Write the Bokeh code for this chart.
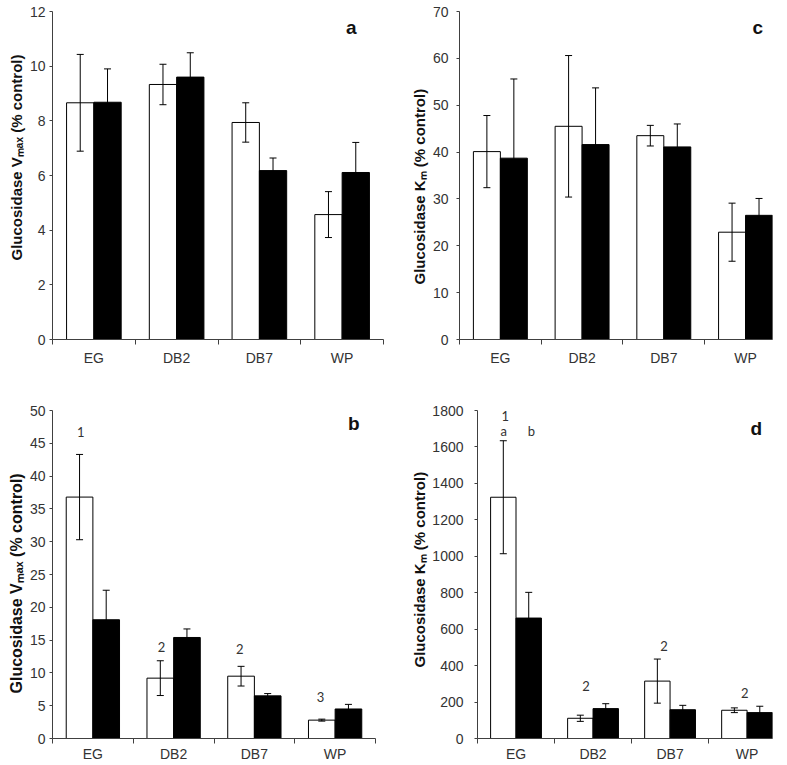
import numpy as np
from bokeh.plotting import figure
from bokeh.models import Range1d, FixedTicker, Whisker, TeeHead, ColumnDataSource, Label, Title
from bokeh.layouts import column, row
from bokeh.embed import file_html
from bokeh.resources import INLINE

categories = ["EG", "DB2", "DB7", "WP"]

# panel a: glucosidase Vmax (% control)
a_open = [8.66, 9.33, 7.94, 4.57]
a_open_err = [1.77, 0.74, 0.72, 0.84]
a_filled = [8.68, 9.60, 6.18, 6.11]
a_filled_err = [1.22, 0.89, 0.46, 1.10]

# panel c: glucosidase Km (% control)
c_open = [40.1, 45.5, 43.5, 22.9]
c_open_err = [7.7, 15.1, 2.2, 6.2]
c_filled = [38.7, 41.6, 41.1, 26.5]
c_filled_err = [16.9, 12.1, 4.9, 3.6]

# panel b: glucosidase Vmax (% control)
b_open = [36.8, 9.2, 9.5, 2.8]
b_open_err = [6.5, 2.65, 1.5, 0.15]
b_filled = [18.1, 15.4, 6.5, 4.5]
b_filled_err = [4.5, 1.3, 0.35, 0.7]

# panel d: glucosidase Km (% control)
d_open = [1324, 111, 315, 155]
d_open_err = [310, 17, 121, 13]
d_filled = [661, 164, 158, 142]
d_filled_err = [141, 27, 24, 35]

# significance notes: (category, offset within category, y, text)
b_notes = [("EG", -0.15, 46.7, "1"), ("DB2", -0.15, 13.9, "2"),
           ("DB7", -0.18, 13.6, "2"), ("WP", -0.18, 6.4, "3")]
d_notes = [("EG", -0.14, 1770, "1"), ("EG", -0.16, 1685, "a"), ("EG", 0.20, 1685, "b"),
           ("DB2", -0.09, 290, "2"), ("DB7", -0.08, 509, "2"), ("WP", -0.03, 252, "2")]

FONT = "Liberation Sans"
TICK_COLOR = "#333333"
AXIS_COLOR = "#404040"


def make_panel(width, height, borders, x_end, y_end, y_step, ylabel, label_offset, label_size,
               open_v, open_e, filled_v, filled_e, letter, letter_pos,
               notes, y_standoff, x_standoff):
    left, right, top, bottom = borders
    p = figure(width=width, height=height,
               x_range=Range1d(0, x_end), y_range=Range1d(0, y_end),
               output_backend="svg", toolbar_location=None,
               min_border_left=left, min_border_right=right,
               min_border_top=top, min_border_bottom=bottom)
    p.outline_line_color = None
    p.xgrid.visible = False
    p.ygrid.visible = False
    p.background_fill_color = "white"
    p.border_fill_color = "white"

    n = len(categories)
    centers = np.arange(n) + 0.5
    half = 0.165
    xo = centers - half
    xf = centers + half
    p.vbar(x=xo, top=open_v, width=0.33, fill_color="white",
           line_color="black", line_width=1)
    p.vbar(x=xf, top=filled_v, width=0.33, fill_color="black",
           line_color="black", line_width=1)
    for xs, v, e in ((xo, open_v, open_e), (xf, filled_v, filled_e)):
        v = np.asarray(v, dtype=float)
        e = np.asarray(e, dtype=float)
        src = ColumnDataSource(dict(base=xs, upper=v + e, lower=v - e))
        w = Whisker(source=src, base="base", upper="upper", lower="lower",
                    line_color="black", line_width=1,
                    upper_head=TeeHead(size=7, line_color="black", line_width=1),
                    lower_head=TeeHead(size=7, line_color="black", line_width=1),
                    level="overlay")
        p.add_layout(w)

    # x axis: labels at category centres, tick marks at category boundaries
    xa = p.xaxis[0]
    xa.ticker = FixedTicker(ticks=[float(c) for c in centers],
                            minor_ticks=[float(i) for i in range(n + 1) if i <= x_end])
    xa.major_label_overrides = {float(c): cat for c, cat in zip(centers, categories)}
    xa.major_tick_line_color = None
    xa.major_tick_out = 5
    xa.major_tick_in = 0
    xa.minor_tick_out = 5
    xa.minor_tick_in = 0
    xa.minor_tick_line_color = AXIS_COLOR
    xa.axis_line_color = AXIS_COLOR
    xa.major_label_standoff = x_standoff
    xa.major_label_text_font = FONT
    xa.major_label_text_font_size = "14px"
    xa.major_label_text_color = TICK_COLOR

    ya = p.yaxis[0]
    ya.ticker = FixedTicker(ticks=list(np.arange(0, y_end + y_step / 2, y_step)))
    ya.minor_tick_line_color = None
    ya.major_tick_out = 3
    ya.major_tick_in = 0
    ya.major_tick_line_color = AXIS_COLOR
    ya.axis_line_color = AXIS_COLOR
    ya.major_label_standoff = y_standoff
    ya.major_label_text_font = FONT
    ya.major_label_text_font_size = "14px"
    ya.major_label_text_color = TICK_COLOR

    # y-axis title, placed along the axis like the original figure
    p.add_layout(Title(text=ylabel, align="left", offset=label_offset,
                       text_font=FONT, text_font_size=label_size,
                       text_font_style="bold", text_color="#111111",
                       standoff=4), "left")

    p.add_layout(Label(x=letter_pos[0], y=letter_pos[1], text=letter,
                       text_font=FONT, text_font_size="19px",
                       text_font_style="bold", text_color="#111111",
                       text_align="center", text_baseline="middle"))
    for cat, off, y, txt in notes:
        idx = categories.index(cat)
        p.add_layout(Label(x=idx + 0.5 + off, y=y, text=txt,
                           text_font="Lato", text_font_size="13px",
                           text_color="#333333",
                           text_align="center", text_baseline="middle"))
    return p


vmax_label = "Glucosidase Vₘₐₓ (% control)"
km_label = "Glucosidase Kₘ (% control)"

pa = make_panel(392, 370, (52, 9, 11, 31), 4, 12, 2, vmax_label, 79, "15px",
                a_open, a_open_err, a_filled, a_filled_err,
                "a", (3.61, 11.4), [], 4, 5)
pc = make_panel(395, 370, (67, 15, 11, 31), 3.83, 70, 10, km_label, 55, "15px",
                c_open, c_open_err, c_filled, c_filled_err,
                "c", (3.65, 66.6), [], 8, 5)
pb = make_panel(392, 395, (52, 17, 40, 26), 4, 50, 5, vmax_label, 45, "16px",
                b_open, b_open_err, b_filled, b_filled_err,
                "b", (3.73, 48.0), b_notes, 4, 2)
pd = make_panel(395, 395, (85, 15, 39, 27), 3.83, 1800, 200, km_label, 71, "15px",
                d_open, d_open_err, d_filled, d_filled_err,
                "d", (3.62, 1701), d_notes, 11, 2)

layout = column(row(pa, pc), row(pb, pd))

with open("out.html", "w") as f:
    f.write(file_html(layout, INLINE))
